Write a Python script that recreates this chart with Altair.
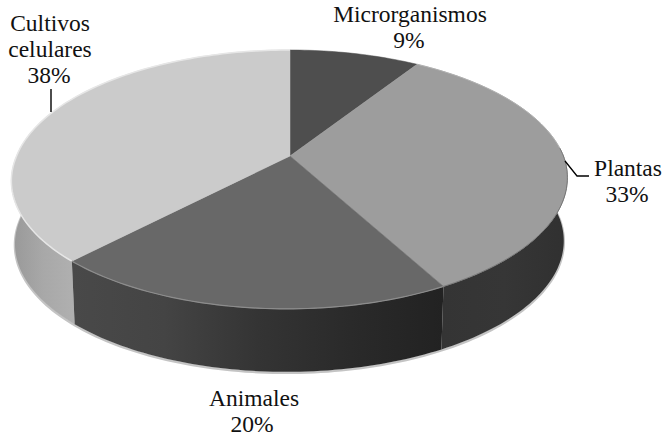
import math
import altair as alt
import pandas as pd

# Pie shares, clockwise from twelve o'clock
names = ["Microrganismos", "Plantas", "Animales", "Cultivos celulares"]
shares = [9, 33, 20, 38]
face_colors = ["#4e4e4e", "#9d9d9d", "#686868", "#cbcbcb"]

W, H = 665, 438
CX, CY = 290, 156          # pie centre on the canvas
RX, RY, TILT = 273.4, 125.2, 0.181  # perspective disc
LEAN = 3.5                 # slight leftward lean of the near half
DEPTH, BASE_SHRINK = 63, 0.987     # extruded wall


def rim(pct, drop=0.0, shrink=1.0):
    """Project a position on the pie's edge (percent clockwise) to canvas units."""
    a = math.radians(pct * 3.6)
    u, v = math.sin(a), -math.cos(a)
    w = 1 - TILT * v
    x = CX + shrink * RX * u / w - LEAN * max(v, 0)
    return x, CY + RY * v / w + drop


def arc(p0, p1, drop=0.0, shrink=1.0):
    n = max(2, int(abs(p1 - p0) * 3))
    return [rim(p0 + (p1 - p0) * i / n, drop, shrink) for i in range(n + 1)]


x_scale = alt.Scale(domain=[0, W], range=[0, W])
y_scale = alt.Scale(domain=[H, 0], range=[H, 0])


def frame(points):
    return pd.DataFrame(
        {"x": [p[0] for p in points], "y": [p[1] for p in points], "i": range(len(points))}
    )


def path(points, **mark):
    return (
        alt.Chart(frame(points))
        .mark_line(**mark)
        .encode(
            x=alt.X("x:Q", scale=x_scale, axis=None),
            y=alt.Y("y:Q", scale=y_scale, axis=None),
            order="i:Q",
        )
    )


def gradient(colors, x2=1, y2=0):
    last = len(colors) - 1
    return alt.Gradient(
        gradient="linear",
        x1=0, y1=0, x2=x2, y2=y2,
        stops=[alt.GradientStop(color=c, offset=k / last) for k, c in enumerate(colors)],
    )


def wall(p0, p1, fill):
    pts = arc(p0, p1) + arc(p1, p0, DEPTH, BASE_SHRINK)
    return path(pts, fill=fill, stroke="transparent", strokeWidth=0)


starts = [sum(shares[:k]) for k in range(len(shares))]
ends = [sum(shares[: k + 1]) for k in range(len(shares))]

layers = []

# soft edge under the base of the cylinder
layers.append(path(arc(22, 78, DEPTH + 1, BASE_SHRINK), stroke="#c4c4c4", strokeWidth=2.5))

# visible side walls
layers.append(wall(ends[2], 76, gradient(["#989898", "#a8a8a8", "#b0b0b0"])))
layers.append(wall(ends[1], 24, gradient(["#343434", "#363636", "#303030"])))
layers.append(wall(ends[1], ends[2], gradient(["#494949", "#444444", "#343434", "#2a2a2a", "#222222"])))

# top faces
for name, s0, s1, color in zip(names, starts, ends, face_colors):
    pts = [(CX, CY)] + arc(s0, s1) + [(CX, CY)]
    layers.append(path(pts, fill=color, stroke=color, strokeWidth=0.5))

# bevel highlights along the top rim
layers.append(path(arc(ends[2], 100), stroke="#e6e6e6", strokeWidth=1.5))
layers.append(path(arc(ends[1], ends[2]), stroke="#8c8c8c", strokeWidth=1.2))
layers.append(path(arc(9, 27), stroke="#b0b0b0", strokeWidth=1))
layers.append(path(arc(24, ends[1]), stroke="#777777", strokeWidth=1))

# leader lines
layers.append(path([(51, 89), (51, 112)], stroke="#000000", strokeWidth=1.4))
layers.append(path([(565, 161), (577, 176), (589, 176)], stroke="#000000", strokeWidth=1.3))

# category labels, stacked lines with the share underneath
label_rows = [
    ("Microrganismos", 410, 22), (f"{shares[0]}%", 409, 48),
    ("Plantas", 628, 176), (f"{shares[1]}%", 627, 202),
    ("Animales", 254, 406), (f"{shares[2]}%", 252, 432),
    ("Cultivos", 50, 31), ("celulares", 50, 57), (f"{shares[3]}%", 49, 83),
]
labels = pd.DataFrame(label_rows, columns=["text", "x", "y"])
layers.append(
    alt.Chart(labels)
    .mark_text(font="Liberation Serif", fontSize=23.5, color="#111111", align="center", baseline="alphabetic")
    .encode(
        x=alt.X("x:Q", scale=x_scale, axis=None),
        y=alt.Y("y:Q", scale=y_scale, axis=None),
        text="text:N",
    )
)

chart = (
    alt.layer(*layers)
    .properties(width=W, height=H, padding=0, autosize=alt.AutoSizeParams(type="none"), background="#ffffff")
    .configure_view(stroke=None)
)

chart.save("out.html", embed_options={"renderer": "svg", "actions": False})
